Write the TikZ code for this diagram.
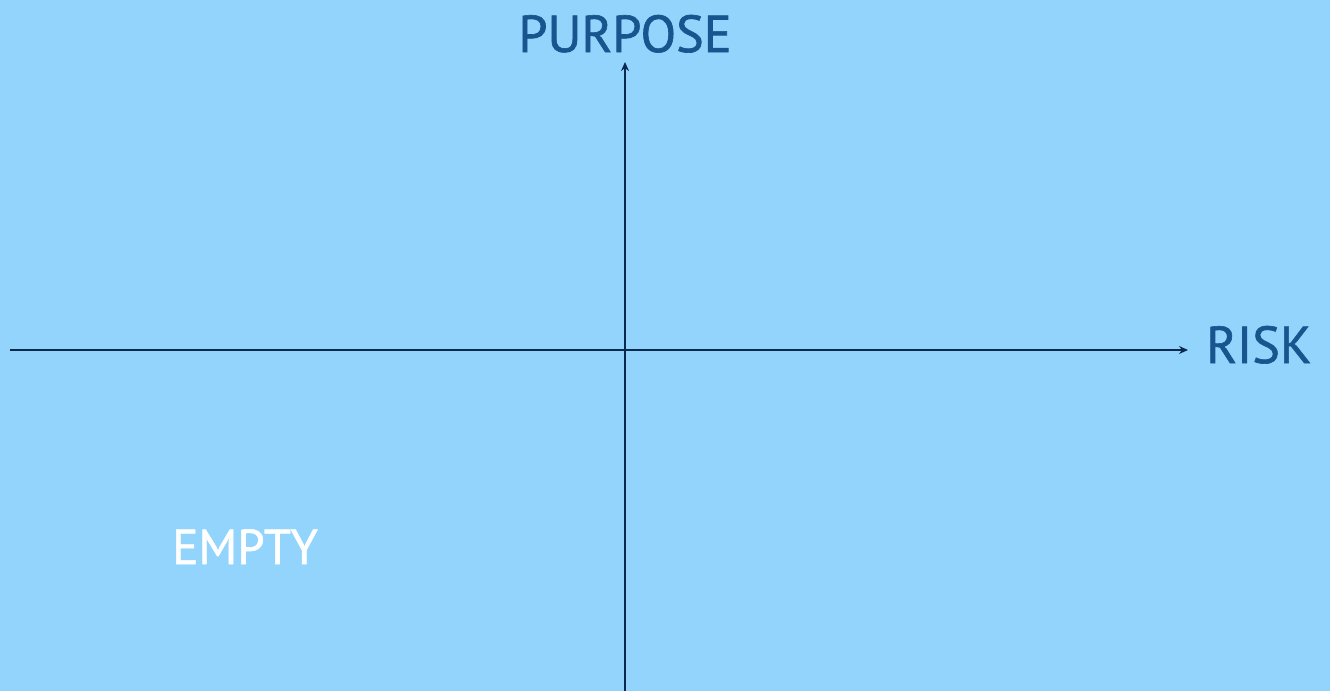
\documentclass[tikz,border=0pt]{standalone}
\usepackage{fontspec}
\setmainfont{PT Sans}
\newfontfamily\labelfont[FakeBold=1.2]{PT Sans}
\usetikzlibrary{arrows.meta}
\definecolor{bgblue}{HTML}{93D4FC}
\definecolor{labelblue}{HTML}{18558E}
\definecolor{axisnavy}{HTML}{0B2A4F}
\tikzset{
  axis/.style={draw=axisnavy, line width=1.9pt, -{Stealth[length=9pt,width=8pt]}},
  axislabel/.style={text=labelblue, inner sep=0pt, anchor=base, font=\labelfont\fontsize{52}{52}\selectfont},
  quadlabel/.style={text=white, inner sep=0pt, anchor=base west, font=\labelfont\fontsize{49}{49}\selectfont}
}
\begin{document}
\begin{tikzpicture}[x=1pt,y=-1pt]
\fill[bgblue] (0,0) rectangle (1330,691);
\useasboundingbox (0,0) rectangle (1330,691);
\coordinate (xstart) at (10,350);
\coordinate (xend) at (1188,350);
\coordinate (ystart) at (625,691);
\coordinate (yend) at (625,62);
\draw[axis] (xstart) -- (xend);
\draw[axis] (ystart) -- (yend);
\node[axislabel] (purpose) at (625,52) {PURPOSE};
\node[axislabel, anchor=base west] (risk) at (1206,363) {RISK};
\node[quadlabel] (empty) at (172,564) {EMPTY};
\end{tikzpicture}
\end{document}
